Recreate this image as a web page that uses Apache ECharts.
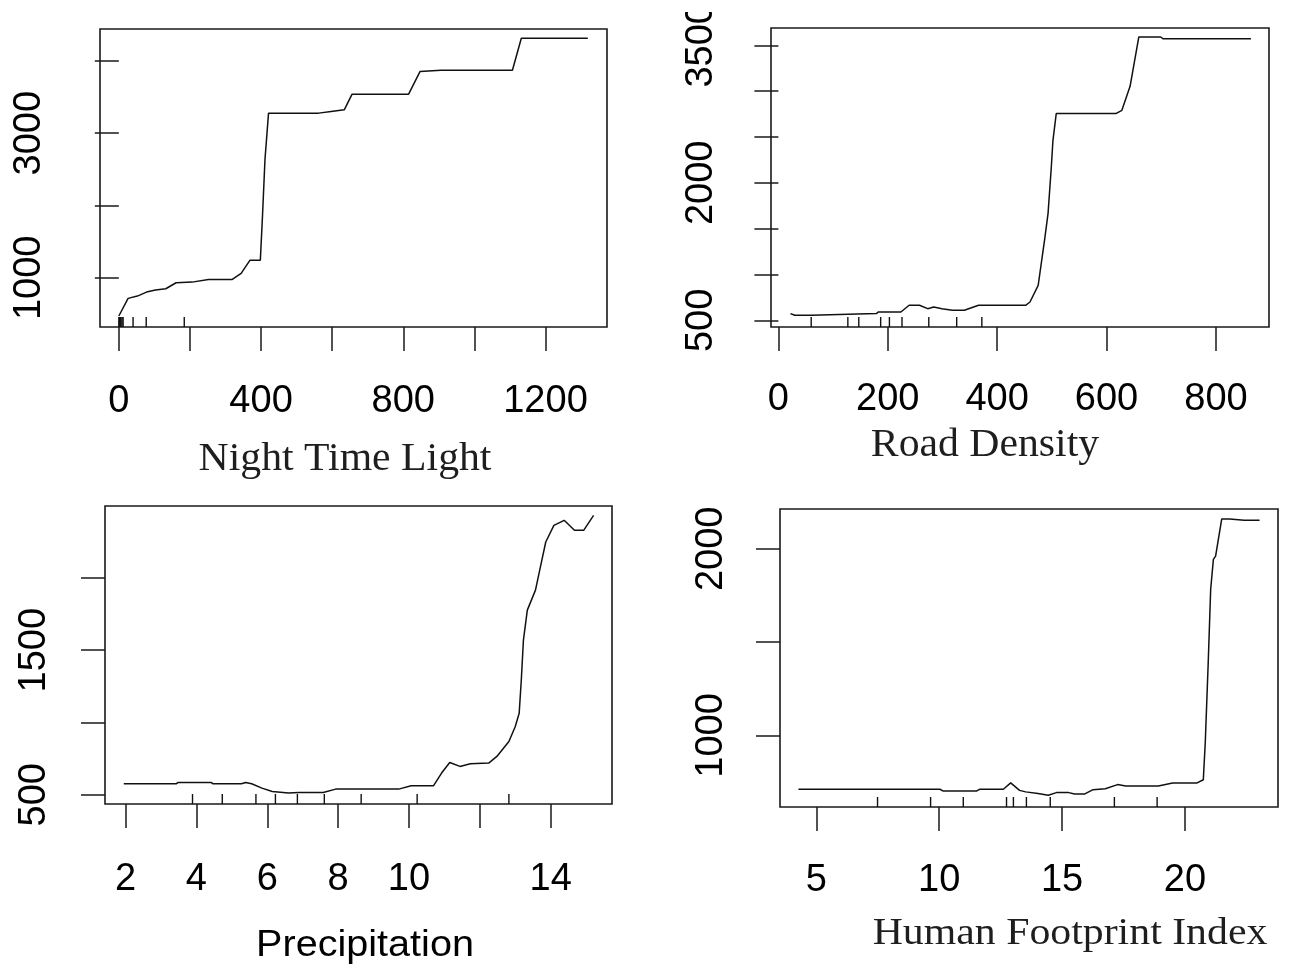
<!DOCTYPE html>
<html><head><meta charset="utf-8">
<script src="https://cdn.jsdelivr.net/npm/echarts@6/dist/echarts.min.js"></script>
<style>html,body{margin:0;padding:0;background:#fff}#c{width:1292px;height:975px}</style>
</head><body><div id="c"></div>
<script>
// ---- Panel 1: Night Time Light ----
const ntlX = [0, 26, 52, 78, 103, 132, 161, 206, 252, 319, 344, 369, 398, 404, 411, 421, 562, 597, 634, 656, 815, 847, 906, 1107, 1132, 1319];
const ntlY = [471, 715, 747, 802, 830, 848, 931, 940, 977, 977, 1060, 1244, 1244, 1851, 2634, 3278, 3278, 3301, 3324, 3540, 3540, 3853, 3872, 3872, 4313, 4313];
const ntlRug = [0, 2, 4, 6, 9, 12, 40, 77, 184];
const ntlXTicks = [0, 200, 400, 600, 800, 1000, 1200];
const ntlXLabels = [0, 400, 800, 1200];
const ntlYTicks = [1000, 2000, 3000, 4000];
const ntlYLabels = [1000, 3000];

// ---- Panel 2: Road Density ----
const rdX = [22, 30, 60, 61, 179, 183, 224, 239, 258, 273, 284, 299, 318, 340, 366, 452, 460, 475, 487, 493, 499, 502, 508, 617, 628, 643, 659, 699, 703, 864];
const rdY = [573, 555, 555, 573, 573, 591, 591, 664, 664, 627, 645, 627, 609, 609, 664, 664, 700, 882, 1391, 1664, 2173, 2464, 2755, 2755, 2791, 3053, 3591, 3591, 3573, 3573];
const rdRug = [60, 127, 147, 187, 203, 226, 275, 326, 372];
const rdXTicks = [0, 200, 400, 600, 800];
const rdXLabels = [0, 200, 400, 600, 800];
const rdYTicks = [500, 1000, 1500, 2000, 2500, 3000, 3500];
const rdYLabels = [500, 2000, 3500];

// ---- Panel 3: Precipitation ----
const prX = [1.95, 3.43, 3.49, 4.41, 4.47, 5.27, 5.39, 5.56, 5.85, 6.14, 6.60, 6.89, 7.58, 7.93, 9.71, 10.06, 10.69, 10.92, 11.15, 11.44, 11.73, 12.25, 12.48, 12.82, 13.0, 13.11, 13.17, 13.23, 13.34, 13.57, 13.69, 13.86, 14.09, 14.38, 14.67, 14.93, 15.21];
const prY = [576, 576, 585, 585, 576, 576, 585, 576, 546, 523, 512, 516, 516, 539, 539, 562, 562, 650, 723, 696, 714, 719, 765, 868, 972, 1064, 1294, 1570, 1777, 1915, 2053, 2248, 2363, 2398, 2329, 2329, 2432];
const prRug = [3.89, 4.73, 5.68, 6.23, 6.85, 7.61, 8.65, 10.23, 12.82];
const prXTicks = [2, 4, 6, 8, 10, 12, 14];
const prXLabels = [2, 4, 6, 8, 10, 14];
const prYTicks = [500, 1000, 1500, 2000];
const prYLabels = [500, 1500];

// ---- Panel 4: Human Footprint Index ----
const hfX = [4.27, 10.03, 10.15, 11.53, 11.64, 12.61, 12.91, 13.27, 13.52, 14.02, 14.44, 14.77, 15.27, 15.51, 15.93, 16.26, 16.76, 17.26, 17.59, 18.92, 19.50, 20.50, 20.75, 20.83, 20.95, 21.05, 21.16, 21.25, 21.50, 21.83, 22.41, 23.04];
const hfY = [712, 712, 703, 703, 712, 712, 746, 706, 698, 689, 680, 694, 694, 687, 687, 710, 715, 737, 730, 730, 746, 746, 763, 964, 1391, 1783, 1943, 1961, 2160, 2160, 2153, 2153];
const hfRug = [7.49, 9.65, 10.98, 12.74, 13.02, 13.55, 14.52, 17.13, 18.87];
const hfXTicks = [5, 10, 15, 20];
const hfXLabels = [5, 10, 15, 20];
const hfYTicks = [1000, 1500, 2000];
const hfYLabels = [1000, 2000];

const axisTitles = ['Night Time Light', 'Road Density', 'Precipitation', 'Human Footprint Index'];

// ---- layout / style ----
const INK = '#1a1a1a';
const SANS = "'Liberation Sans', Arial, sans-serif";
const SERIF = "'Liberation Serif', 'Times New Roman', serif";

const panels = [
  {x: ntlX, y: ntlY, rug: ntlRug, xt: ntlXTicks, xl: ntlXLabels, yt: ntlYTicks, yl: ntlYLabels,
   grid: {left: 100, top: 29, width: 507, height: 298}, xr: [-53, 1373], yr: [319, 4442], xm: 56, ym: 51},
  {x: rdX, y: rdY, rug: rdRug, xt: rdXTicks, xl: rdXLabels, yt: rdYTicks, yl: rdYLabels,
   grid: {left: 771, top: 28, width: 498, height: 299}, xr: [-13.5, 897], yr: [427, 3689], xm: 54, ym: 50},
  {x: prX, y: prY, rug: prRug, xt: prXTicks, xl: prXLabels, yt: prYTicks, yl: prYLabels,
   grid: {left: 105, top: 506, width: 507, height: 298}, xr: [1.42, 15.73], yr: [436, 2497], xm: 57, ym: 51},
  {x: hfX, y: hfY, rug: hfRug, xt: hfXTicks, xl: hfXLabels, yt: hfYTicks, yl: hfYLabels,
   grid: {left: 780, top: 509, width: 498, height: 298}, xr: [3.52, 23.79], yr: [617, 2213], xm: 55, ym: 49}
];

const plain = v => String(v);
const grids = [], xAxes = [], yAxes = [], series = [];
panels.forEach((p, i) => {
  grids.push(Object.assign({show: true, borderColor: INK, borderWidth: 1.6, backgroundColor: 'transparent', containLabel: false}, p.grid));
  xAxes.push({
    type: 'value', gridIndex: i, min: p.xr[0], max: p.xr[1],
    axisLine: {show: false}, splitLine: {show: false},
    axisTick: {show: true, inside: false, length: 24, customValues: p.xt, lineStyle: {color: INK, width: 1.5}},
    axisLabel: {show: true, customValues: p.xl, formatter: plain, margin: p.xm, color: '#000', fontSize: 38, fontFamily: SANS, hideOverlap: false}
  });
  yAxes.push({
    type: 'value', gridIndex: i, min: p.yr[0], max: p.yr[1],
    axisLine: {show: false}, splitLine: {show: false},
    axisTick: {show: true, inside: false, length: 24, customValues: p.yt, lineStyle: {color: INK, width: 1.5}},
    axisLabel: {show: true, customValues: p.yl, formatter: plain, rotate: 90, margin: p.ym, color: '#000', fontSize: 38, fontFamily: SANS, hideOverlap: false}
  });
  series.push({
    type: 'line', xAxisIndex: i, yAxisIndex: i, showSymbol: false, symbol: 'none',
    data: p.x.map((v, k) => [v, p.y[k]]),
    lineStyle: {color: '#111', width: 1.5}, animation: false, silent: true
  });
  series.push({
    type: 'custom', xAxisIndex: i, yAxisIndex: i, silent: true, animation: false,
    data: p.rug.map(v => [v]),
    encode: {x: 0},
    renderItem: (params, api) => {
      const px = api.coord([api.value(0), p.yr[0]])[0];
      const bottom = params.coordSys.y + params.coordSys.height;
      return {type: 'line', shape: {x1: px, y1: bottom, x2: px, y2: bottom - 10},
              style: {stroke: '#111', lineWidth: 1.4}};
    }
  });
});

const titleStyle = [
  {x: 345, y: 460, font: SERIF, size: 39, sx: 1.07},
  {x: 985, y: 446, font: SERIF, size: 39, sx: 1.07},
  {x: 365, y: 946, font: SANS, size: 36, sx: 1.1},
  {x: 1070, y: 934, font: SERIF, size: 38, sx: 1.1}
];
const graphics = axisTitles.map((t, i) => ({
  type: 'text', x: titleStyle[i].x, y: titleStyle[i].y, scaleX: titleStyle[i].sx, z: 10,
  style: {text: t, fill: i === 2 ? '#000' : '#1e1e1e', font: titleStyle[i].size + 'px ' + titleStyle[i].font, textAlign: 'center', textVerticalAlign: 'middle'}
}));
// the original's top edge clips the "3500" label of the Road Density panel
graphics.push({type: 'rect', shape: {x: 680, y: 0, width: 60, height: 12}, style: {fill: '#fff'}, z: 100});

const chart = echarts.init(document.getElementById('c'), null, {renderer: 'canvas'});
chart.setOption({
  animation: false,
  backgroundColor: '#fff',
  grid: grids, xAxis: xAxes, yAxis: yAxes, series: series,
  graphic: graphics
});
</script></body></html>
